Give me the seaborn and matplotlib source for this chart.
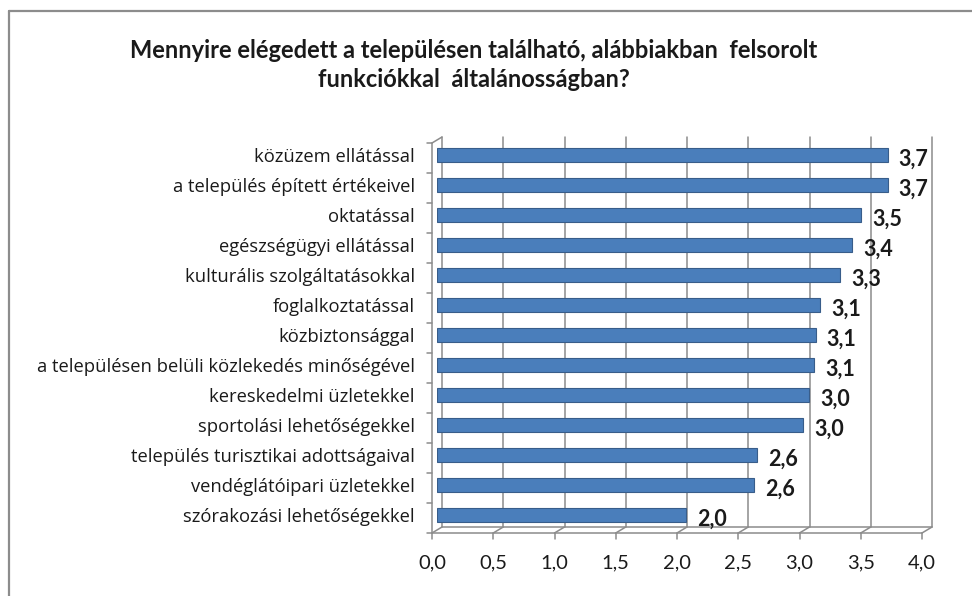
import matplotlib
matplotlib.use("Agg")
import matplotlib.pyplot as plt
import matplotlib.transforms as transforms
from matplotlib.lines import Line2D
import seaborn as sns
import pandas as pd

# adatok
categories = [
    "közüzem ellátással",
    "a település épített értékeivel",
    "oktatással",
    "egészségügyi ellátással",
    "kulturális szolgáltatásokkal",
    "foglalkoztatással",
    "közbiztonsággal",
    "a településen belüli közlekedés minőségével",
    "kereskedelmi üzletekkel",
    "sportolási lehetőségekkel",
    "település turisztikai adottságaival",
    "vendéglátóipari üzletekkel",
    "szórakozási lehetőségekkel",
]
scores = [3.68, 3.68, 3.46, 3.39, 3.29, 3.13, 3.09, 3.08, 3.04, 2.99, 2.61, 2.59, 2.03]
xticks = [0.0, 0.5, 1.0, 1.5, 2.0, 2.5, 3.0, 3.5, 4.0]
xtick_labels = [f"{t:.1f}".replace(".", ",") for t in xticks]
title = ("Mennyire elégedett a településen található, alábbiakban  felsorolt\n"
         "funkciókkal  általánosságban?")

sns.set_style("white")
plt.rcParams['font.family'] = ['Lato', 'DejaVu Sans']

W, H = 972, 596
fig = plt.figure(figsize=(W / 100, H / 100), dpi=100)
x0, x1 = 437, 927      # 0 and 4 in pixels
ytop, ybot = 140, 530
ax = fig.add_axes([x0 / W, 1 - ybot / H, (x1 - x0) / W, (ybot - ytop) / H])

df = pd.DataFrame({'kategoria': categories, 'atlag': scores})
sns.barplot(data=df, x='atlag', y='kategoria', orient='h', color='#4A7EBB',
            saturation=1, edgecolor='#385D8A', linewidth=0.8, width=0.47,
            ax=ax, zorder=3)

ax.set_xlim(0, 4)
ax.set_ylim(len(categories) - 0.5, -0.5)
ax.set_xlabel('')
ax.set_ylabel('')
for s in ax.spines.values():
    s.set_visible(False)
ax.set_xticks([])
ax.tick_params(axis='y', length=0, pad=16)
for lbl in ax.get_yticklabels():
    lbl.set_fontsize(13.2)
    lbl.set_family(['Open Sans', 'DejaVu Sans'])
    lbl.set_color('#1a1a1a')

# pseudo 3D: back wall and front edge
back = transforms.offset_copy(ax.transData, fig=fig, x=5, y=3, units='dots')
front = transforms.offset_copy(ax.transData, fig=fig, x=-5, y=-3, units='dots')
ymin, ymax = len(categories) - 0.5, -0.5
grid_c = '#8c8c8c'

for t in xticks:
    ax.plot([t, t], [ymin, ymax], transform=back, color=grid_c, lw=1.1,
            zorder=1, clip_on=False)
    pb = back.transform((t, ymin))
    pf = front.transform((t, ymin))
    fig.add_artist(Line2D([pb[0], pf[0]], [pb[1], pf[1]], transform=None,
                          color=grid_c, lw=1.1))
    fig.add_artist(Line2D([pf[0], pf[0]], [pf[1], pf[1] - 6], transform=None,
                          color=grid_c, lw=1.1))
    ax.text(t, ymin, xtick_labels[xticks.index(t)], fontsize=14.5, color='#1a1a1a',
            ha='center', va='center',
            transform=transforms.offset_copy(ax.transData, fig=fig, x=-5, y=-33, units='dots'))

ax.plot([0, 4], [ymin, ymin], transform=back, color=grid_c, lw=1.1, clip_on=False)
ax.plot([0, 4], [ymin, ymin], transform=front, color=grid_c, lw=1.1, clip_on=False)
ax.plot([0, 0], [ymin, ymax], transform=front, color=grid_c, lw=1.1, clip_on=False)
pb = back.transform((0, ymax))
pf = front.transform((0, ymax))
fig.add_artist(Line2D([pb[0], pf[0]], [pb[1], pf[1]], transform=None, color=grid_c, lw=1.1))
for k in range(len(categories) + 1):
    pf = front.transform((0, k - 0.5))
    fig.add_artist(Line2D([pf[0] - 5, pf[0]], [pf[1], pf[1]], transform=None,
                          color=grid_c, lw=1.1))

# value labels
lab_tr = transforms.offset_copy(ax.transData, fig=fig, x=11, y=-4, units='dots')
for i, v in enumerate(scores):
    ax.text(v, i, f"{v:.1f}".replace(".", ","), transform=lab_tr, ha='left',
            va='center', fontsize=15.5, fontweight='bold', color='#1a1a1a')

fig.text(474 / W, 1 - 65 / H, title, ha='center', va='center', fontsize=17,
         fontweight='bold', color='#1a1a1a', linespacing=1.35)

# chart frame
fig.add_artist(Line2D([9 / W, 9 / W], [0, 1 - 11 / H], transform=fig.transFigure,
                      color='#8c8c8c', lw=1.6))
fig.add_artist(Line2D([9 / W, 1], [1 - 11 / H, 1 - 11 / H], transform=fig.transFigure,
                      color='#8c8c8c', lw=1.6))

fig.savefig('out.png', dpi=100)
